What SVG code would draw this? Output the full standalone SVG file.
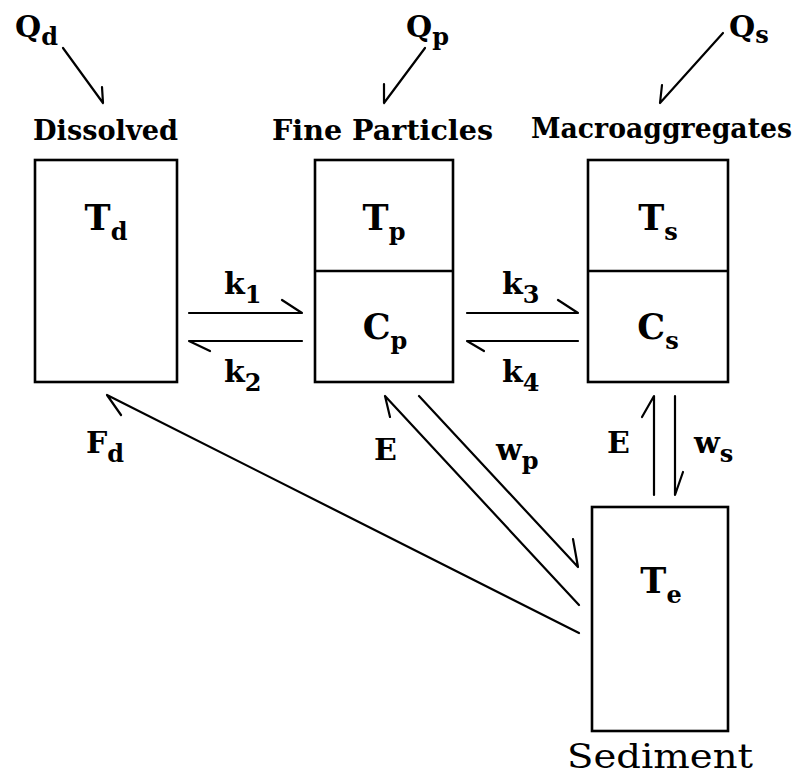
<svg xmlns="http://www.w3.org/2000/svg" width="795" height="777" viewBox="0 0 795 777">
<style>
.box{fill:none;stroke:#000;stroke-width:2.6}
.ln{fill:none;stroke:#000;stroke-width:2.2;stroke-linecap:round;stroke-linejoin:round}
.hd{font-family:"DejaVu Serif",serif;font-weight:bold;font-size:27px;fill:#000}
.sym{font-family:"DejaVu Serif",serif;font-weight:bold;font-size:35px;fill:#000;text-anchor:middle}
.lb{font-family:"DejaVu Serif",serif;font-weight:bold;font-size:30px;fill:#000}
.sub{font-size:24px}
.sed{font-family:"DejaVu Serif",serif;font-size:33px;fill:#000}
</style>
<rect width="795" height="777" fill="#fff"/>
<g id="dissolved">
<text class="hd" x="33" y="140" textLength="145" lengthAdjust="spacingAndGlyphs">Dissolved</text>
<rect class="box" x="35" y="160" width="142" height="222"/>
<text class="sym" x="106" y="230">T<tspan class="sub" dy="10">d</tspan></text>
</g>
<g id="fine-particles">
<text class="hd" x="272" y="140" textLength="221" lengthAdjust="spacingAndGlyphs">Fine Particles</text>
<rect class="box" x="315" y="160" width="138" height="222"/>
<line class="box" x1="315" y1="271" x2="453" y2="271"/>
<text class="sym" x="384" y="230">T<tspan class="sub" dy="10">p</tspan></text>
<text class="sym" x="385" y="339">C<tspan class="sub" dy="10">p</tspan></text>
</g>
<g id="macroaggregates">
<text class="hd" x="531" y="138" textLength="261" lengthAdjust="spacingAndGlyphs">Macroaggregates</text>
<rect class="box" x="588" y="160" width="140" height="222"/>
<line class="box" x1="588" y1="271" x2="728" y2="271"/>
<text class="sym" x="658" y="230">T<tspan class="sub" dy="10">s</tspan></text>
<text class="sym" x="658" y="339">C<tspan class="sub" dy="10">s</tspan></text>
</g>
<g id="sediment">
<rect class="box" x="592" y="507" width="136" height="224"/>
<text class="sym" x="661" y="593">T<tspan class="sub" dy="10">e</tspan></text>
<text class="sed" x="567" y="768" textLength="186" lengthAdjust="spacingAndGlyphs">Sediment</text>
</g>
<g id="connectors">
<path class="ln" d="M63,48 L103,103 M102,87 L103,103"/>
<path class="ln" d="M425,48 L384,103 M384,84 L384,103"/>
<path class="ln" d="M723,33 L660,103 M662,85 L660,103"/>
<path class="ln" d="M189,313 L302,313 L282,300"/>
<path class="ln" d="M302,341 L189,341 L210,351"/>
<path class="ln" d="M467,313 L578,313 L558,300"/>
<path class="ln" d="M578,341 L467,341 L484,351"/>
<path class="ln" d="M579,605 L385,396 L390,417"/>
<path class="ln" d="M419,396 L578,567 L573,539"/>
<path class="ln" d="M579,633 L107,395 L121,415"/>
<path class="ln" d="M654,495 L654,396 L642,417"/>
<path class="ln" d="M675,396 L675,495 L683,472"/>
</g>
<g id="labels">
<text class="lb" x="224" y="294">k<tspan class="sub" dy="9">1</tspan></text>
<text class="lb" x="224" y="382">k<tspan class="sub" dy="9">2</tspan></text>
<text class="lb" x="502" y="294">k<tspan class="sub" dy="9">3</tspan></text>
<text class="lb" x="502" y="382">k<tspan class="sub" dy="9">4</tspan></text>
<text class="lb" x="374" y="460">E</text>
<text class="lb" x="496" y="460">w<tspan class="sub" dy="9">p</tspan></text>
<text class="lb" x="607" y="453">E</text>
<text class="lb" x="694" y="453">w<tspan class="sub" dy="9">s</tspan></text>
<text class="lb" x="86" y="453">F<tspan class="sub" dy="9">d</tspan></text>
<text class="lb" x="15" y="37">Q<tspan class="sub" dy="8">d</tspan></text>
<text class="lb" x="406" y="37">Q<tspan class="sub" dy="8">p</tspan></text>
<text class="lb" x="729" y="37">Q<tspan class="sub" dy="6">s</tspan></text>
</g>
</svg>
